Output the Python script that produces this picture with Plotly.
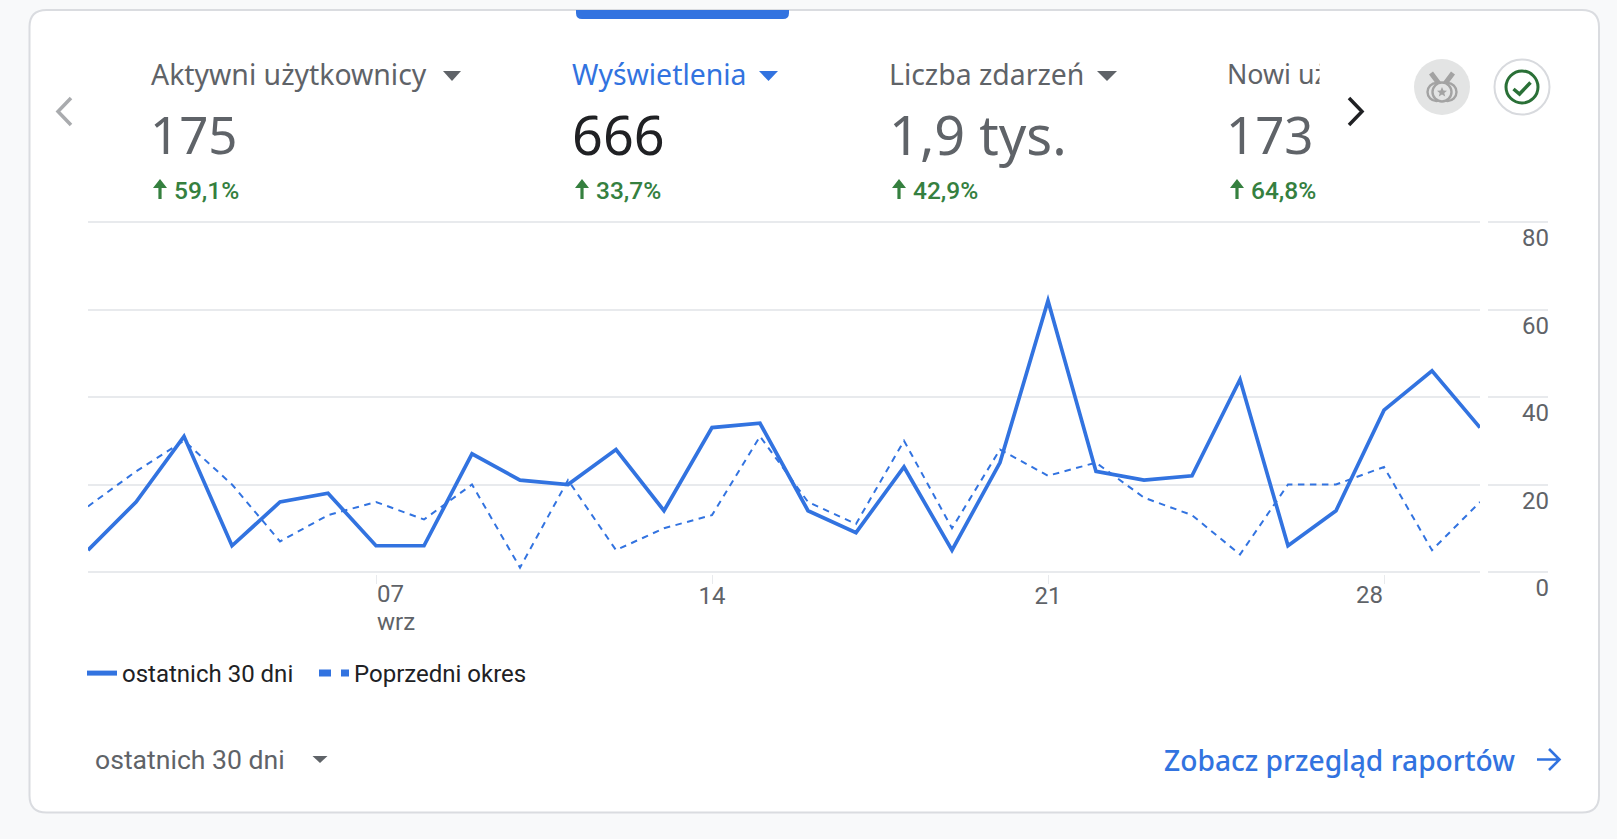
import plotly.graph_objects as go

days = list(range(1, 31))
current_period = [5, 16, 31, 6, 16, 18, 6, 6, 27, 21, 20, 28, 14, 33, 34, 14, 9, 24, 5, 25, 62, 23, 21, 22, 44, 6, 14, 37, 46, 33]
previous_period = [15, 23, 30, 20, 7, 13, 16, 12, 20, 1, 21, 5, 10, 13, 31, 16, 11, 30, 10, 28, 22, 25, 17, 13, 4, 20, 20, 24, 5, 16]
series_names = ["ostatnich 30 dni", "Poprzedni okres"]
y_ticks = [0, 20, 40, 60, 80]
x_ticks = [7, 14, 21, 28]
x_tick_text = ["", "14", "21", ""]

metric_labels = ["Aktywni użytkownicy", "Wyświetlenia", "Liczba zdarzeń", "Nowi uż"]
metric_values = ["175", "666", "1,9 tys.", "173"]
metric_changes = ["59,1%", "33,7%", "42,9%", "64,8%"]

BLUE = "#3273e0"
GREY = "#5f6368"
GREEN = "#35803f"
GRID = "#e8eaed"
BG = "#f8f9fa"
BORDER = "#dadce0"
ICON = "#a3a3a3"
SANS = "Noto Sans"
ROBOTO = "Roboto"

W, H = 1617, 839
L, R, T, B = 88, 1548, 220, 574
PAD = 2 / 4.375  # 2 px of head-room so the 0 and 80 grid lines are kept
PW, PH = R - L, B - T
DAY_PX = 48
px = lambda x: (x - L) / PW
py = lambda y: (B - y) / PH

def path(d):
    out = []
    for seg in d:
        c, *n = seg
        pts = [f"{px(n[i])},{py(n[i+1])}" for i in range(0, len(n), 2)]
        out.append(c + " ".join(pts))
    return " ".join(out)

def shape_path(d, fill=None, line=None, width=0, layer="above"):
    return dict(type="path", xref="paper", yref="paper", path=path(d), layer=layer,
                fillcolor=fill or "rgba(0,0,0,0)",
                line=dict(color=line or "rgba(0,0,0,0)", width=width))

def rrect(x0, y0, x1, y1, r):
    return [("M", x0 + r, y0), ("L", x1 - r, y0), ("Q", x1, y0, x1, y0 + r), ("L", x1, y1 - r),
            ("Q", x1, y1, x1 - r, y1), ("L", x0 + r, y1), ("Q", x0, y1, x0, y1 - r), ("L", x0, y0 + r),
            ("Q", x0, y0, x0 + r, y0), ("Z",)]

def circle(cx, cy, r, fill=None, line=None, width=0, layer="above"):
    return dict(type="circle", xref="paper", yref="paper", x0=px(cx - r), x1=px(cx + r),
                y0=py(cy + r), y1=py(cy - r), layer=layer,
                fillcolor=fill or "rgba(0,0,0,0)",
                line=dict(color=line or "rgba(0,0,0,0)", width=width))

def tri(x0, x1, y0, y1, color):
    return shape_path([("M", x0, y0), ("L", x1, y0), ("L", (x0 + x1) / 2, y1), ("Z",)], fill=color)

def up_arrow(x0, x1, y0, y1, color):
    m = (x0 + x1) / 2
    return shape_path([("M", m, y0), ("L", x1, y0 + 9), ("L", m + 1.6, y0 + 9), ("L", m + 1.6, y1),
                       ("L", m - 1.6, y1), ("L", m - 1.6, y0 + 9), ("L", x0, y0 + 9), ("Z",)], fill=color)

def text(t, x, y, size, color, font=ROBOTO, anchor="left", weight=None):
    f = dict(family=font, size=size, color=color)
    if weight:
        f["weight"] = weight
    return dict(text=t, xref="paper", yref="paper", x=px(x), y=py(y), xanchor=anchor, yanchor="middle",
                showarrow=False, font=f, borderpad=0)

shapes = [
    shape_path(rrect(29.5, 10, 1599, 812.5, 17), fill="white", line=BORDER, width=2, layer="below"),
    shape_path([("M", 576, 10), ("L", 789, 10), ("L", 789, 13), ("Q", 789, 19, 783, 19), ("L", 582, 19),
                ("Q", 576, 19, 576, 13), ("Z",)], fill=BLUE),
    # gap in the grid between the plot and the value scale
    dict(type="rect", xref="x", yref="y", x0=1 + (1480 - L) / DAY_PX, x1=1 + (1488 - L) / DAY_PX,
         y0=-PAD, y1=80 + PAD, fillcolor="white", line=dict(width=0), layer="above"),
    tri(443, 461, 71, 81, GREY), tri(759, 778, 71, 81, BLUE), tri(1097, 1117, 71, 81, GREY),
    tri(312.5, 327.5, 756, 763, GREY),
    up_arrow(153, 167, 179, 199, GREEN), up_arrow(575, 589, 179, 199, GREEN),
    up_arrow(892, 906, 179, 199, GREEN), up_arrow(1230, 1244, 179, 199, GREEN),
    shape_path([("M", 71, 98), ("L", 58, 111.5), ("L", 71, 125)], line="#a9abae", width=3.5),
    shape_path([("M", 1349, 98), ("L", 1362, 111.5), ("L", 1349, 125)], line="#202124", width=3.5),
    circle(1442, 87, 28, fill="#e3e4e4"),
    shape_path([("M", 1431, 73), ("L", 1440, 85), ("M", 1453, 73), ("L", 1444, 85)], line=ICON, width=5),
    circle(1436.5, 92, 9, line=ICON, width=2.4),
    circle(1447.5, 92, 9, line=ICON, width=2.4),
    circle(1442, 92, 9.5, fill="#e3e4e4", line=ICON, width=2.4),
    shape_path([("M", 1442, 87), ("L", 1443.5, 90.5), ("L", 1447, 90.8), ("L", 1444.3, 93), ("L", 1445.2, 96.5),
                ("L", 1442, 94.6), ("L", 1438.8, 96.5), ("L", 1439.7, 93), ("L", 1437, 90.8), ("L", 1440.5, 90.5), ("Z",)],
               fill=ICON),
    circle(1522, 87, 27.5, fill="white", line="#d8dade", width=2),
    circle(1522, 87, 16, line="#2a7037", width=3),
    shape_path([("M", 1513.5, 89), ("L", 1519.5, 94), ("L", 1530.5, 82.5)], line="#2a7037", width=3.5),
    shape_path([("M", 1537, 759.5), ("L", 1559, 759.5), ("M", 1549, 749), ("L", 1559.5, 759.5), ("L", 1549, 770)],
               line=BLUE, width=2.6),
]

label_x = [150, 571, 888, 1226]
label_size = [28.4, 28.4, 28.4, 26.8]
value_x = [149, 571, 888, 1225]
value_size = [51, 54, 54, 51]
pct_x = [173, 595, 912, 1250]
annotations = []
for i, (lab, val, chg) in enumerate(zip(metric_labels, metric_values, metric_changes)):
    annotations.append(text(lab, label_x[i], 74, label_size[i], BLUE if i == 1 else GREY, SANS))
    annotations.append(text(val, value_x[i], 134, value_size[i], "#202124" if i == 1 else GREY, SANS))
    annotations.append(text(chg, pct_x[i], 191, 24.5, GREEN, ROBOTO, weight=500))
annotations.append(dict(text=" ", xref="paper", yref="paper", x=px(1319), y=py(74), xanchor="left", yanchor="middle",
                        width=45, height=36, bgcolor="white", showarrow=False, borderpad=0))
tick_font = dict(family=ROBOTO, size=24, color=GREY)
annotations.append(dict(text="07", xref="x", yref="paper", x=x_ticks[0], y=py(593.5), xanchor="left", yanchor="middle",
                        showarrow=False, font=tick_font, borderpad=0))
annotations.append(dict(text="wrz", xref="x", yref="paper", x=x_ticks[0], y=py(621.5), xanchor="left", yanchor="middle",
                        showarrow=False, font=tick_font, borderpad=0))
annotations.append(dict(text="28", xref="x", yref="paper", x=x_ticks[3], y=py(595), xanchor="right", yanchor="middle",
                        showarrow=False, font=tick_font, borderpad=0))
annotations.append(text("ostatnich 30 dni", 94, 759, 26.6, GREY))
annotations.append(text("Zobacz przegląd raportów", 1163, 760, 28.2, BLUE, SANS, weight=500))

fig = go.Figure()
fig.add_trace(go.Scatter(x=days, y=previous_period, mode="lines", showlegend=False, hoverinfo="skip",
                         line=dict(color=BLUE, width=2, dash="6.5px,5.5px")))
fig.add_trace(go.Scatter(x=days, y=current_period, mode="lines", showlegend=False, hoverinfo="skip",
                         line=dict(color=BLUE, width=3.7)))
fig.add_trace(go.Scatter(x=[None], y=[None], mode="lines", name=series_names[0], line=dict(color=BLUE, width=5)))
fig.add_trace(go.Scatter(x=[None], y=[None], mode="lines", name=series_names[1],
                         line=dict(color=BLUE, width=7, dash="12px,10px")))

fig.update_layout(
    width=W, height=H, autosize=False,
    margin=dict(l=L, r=W - R, t=T, b=H - B, pad=0),
    paper_bgcolor=BG, plot_bgcolor="rgba(0,0,0,0)",
    font=dict(family=ROBOTO, size=24, color=GREY),
    xaxis=dict(range=[1, 1 + PW / DAY_PX], tickmode="array", tickvals=x_ticks, ticktext=x_tick_text,
               ticks="outside", ticklen=9, tickwidth=1, tickcolor=GRID, showgrid=False, zeroline=False,
               showline=False, ticklabelstandoff=-9, tickfont=tick_font),
    yaxis=dict(range=[-PAD, 80 + PAD], tickmode="array", tickvals=y_ticks, side="right", ticklabelposition="inside",
               ticklabeloverflow="allow", ticklabelshift=16, ticklabelstandoff=-4, gridcolor=GRID, gridwidth=1.7,
               zeroline=False, showline=False, ticks="", tickfont=tick_font),
    legend=dict(orientation="h", x=px(82), y=py(673.5), xanchor="left", yanchor="middle", bgcolor="rgba(0,0,0,0)",
                itemwidth=30, entrywidth=187, entrywidthmode="pixels", itemclick=False, itemdoubleclick=False,
                font=dict(family=ROBOTO, size=24, color="#202124")),
    shapes=shapes, annotations=annotations,
)
fig.write_html("out.html", config=dict(displayModeBar=False),
               post_script="document.body.style.margin='0';document.body.style.background='#f8f9fa';document.body.style.overflow='hidden';"
                           "document.querySelectorAll('.js-line').forEach(function(e){e.style.strokeMiterlimit='10';});")
